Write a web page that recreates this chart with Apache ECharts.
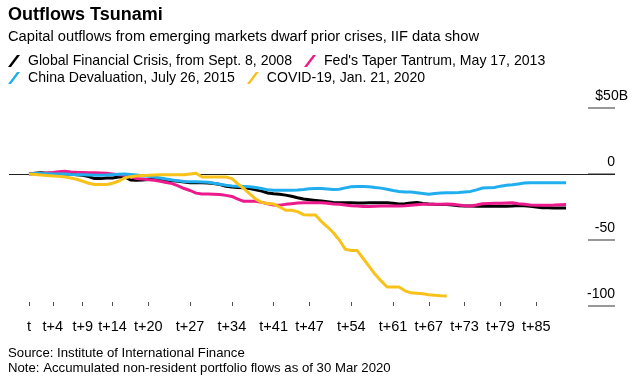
<!DOCTYPE html>
<html>
<head>
<meta charset="utf-8">
<script src="https://cdn.jsdelivr.net/npm/echarts@6/dist/echarts.min.js"></script>
<style>html,body{margin:0;padding:0;background:#fff}#c{width:638px;height:380px}</style>
</head>
<body>
<div id="c"></div>
<script>
var FONT = '"Liberation Sans", Arial, Helvetica, sans-serif';
var seriesNames = ['Global Financial Crisis, from Sept. 8, 2008', "Fed's Taper Tantrum, May 17, 2013", 'China Devaluation, July 26, 2015', 'COVID-19, Jan. 21, 2020'];
var tickSteps = [0, 4, 9, 14, 20, 27, 34, 41, 47, 54, 61, 67, 73, 79, 85];
var tickLabels = ['t', 't+4', 't+9', 't+14', 't+20', 't+27', 't+34', 't+41', 't+47', 't+54', 't+61', 't+67', 't+73', 't+79', 't+85'];
var yTicks = [-100, -50, 0, 50];
var yTickLabels = ['-100', '-50', '0', '$50B'];

var gfc = [0,0.5,1,0.5,0.5,0.5,0,0,-0.5,-1,-2,-3.5,-3.5,-3,-3,-2.3,-2,-4.5,-4.8,-4.5,-4.2,-4,-4.3,-4.8,-5.2,-5.5,-6,-6.6,-6.6,-6.6,-6.8,-7.2,-8,-9.3,-9.8,-10.2,-10.5,-11,-12,-13,-14.4,-15,-15.4,-16,-16.9,-18,-19,-19.5,-20,-20.5,-21,-21.5,-21.7,-21.7,-21.8,-22,-22,-21.8,-21.7,-21.7,-21.7,-22.2,-22.7,-22.5,-22,-21.5,-22.3,-22.7,-23,-23.2,-23.2,-23.5,-24,-24.2,-24.3,-24.5,-24.5,-24.5,-24.5,-24.5,-24.5,-24.3,-23.8,-24,-24.5,-25,-25.5,-25.6,-25.8,-25.8,-25.8];
var taper = [0,0.3,0.5,0.8,1.2,1.8,2,1.6,1.3,1.2,1,1,0.8,0.5,0,-0.5,-1,-2,-3.5,-3.8,-4.3,-4.8,-5.5,-6.5,-7.3,-9,-11,-12.5,-14.5,-15.2,-15.2,-15.3,-15.5,-16.2,-17,-19,-20.7,-20.7,-20.7,-21.5,-22.5,-23.5,-23.7,-23,-22.5,-22,-21.8,-21.7,-21.7,-21.8,-22.2,-22.7,-23,-23.5,-24,-24.3,-24.7,-24.7,-24.5,-24.3,-24.2,-24.2,-24.2,-24,-23.6,-23.3,-23,-23,-23,-23,-22.7,-23,-23.5,-24,-24.2,-23.5,-22.5,-22.3,-22.2,-22.2,-22,-21.8,-22.5,-23,-23.5,-23.7,-23.7,-23.6,-23.5,-23.3,-23.2];
var china = [0,0.3,0.3,0.2,0,0,0,-0.3,-0.5,-0.5,-0.7,-1,-1,-0.8,-0.5,-0.2,0,-0.3,-0.8,-1.3,-1.8,-2.3,-3,-3.8,-4.5,-5.2,-5.6,-5.8,-5.8,-6,-6.3,-7,-7.8,-8.6,-9,-9.2,-9.4,-9.6,-10.2,-11,-12,-12.4,-12.4,-12.4,-12.4,-12.2,-11.8,-11.2,-11,-11,-11.3,-11.8,-11.5,-10.5,-9.6,-9.4,-9.4,-9.6,-10.2,-10.7,-11.5,-12.5,-13.3,-13.6,-13.6,-14.2,-14.8,-15.4,-14.8,-14.4,-14.2,-14.2,-14,-13.6,-13.2,-12,-10.6,-10.4,-10.2,-9.2,-8.6,-8.2,-7.5,-6.8,-6.6,-6.6,-6.6,-6.6,-6.6,-6.6,-6.6];
var covid = [0,-0.3,-0.8,-1.2,-1.5,-1.8,-2.3,-3,-4,-5.5,-7,-8,-8,-8,-7,-5.5,-3,-2,-1.5,-1.2,-1,-0.7,-0.5,-0.5,-0.5,-0.5,-0.5,0,0.5,-2.3,-2.3,-2.3,-2.3,-2.3,-3.5,-7.5,-11,-15,-19,-21.5,-22.3,-22.8,-25,-27.5,-27.5,-28.5,-30.8,-31,-31,-36,-40,-44.5,-50,-57,-58,-58,-64,-70,-76,-81,-85.6,-85.6,-85.6,-88.5,-90,-90.4,-90.8,-91.5,-91.9,-92.2,-92.4];

var colors = ['#000000', '#ec1b8c', '#21aeef', '#f9c21b'];
var seriesData = [gfc, taper, china, covid];
var SLASH = 'path://M0,12 L9,0 L12,0 L3,12 Z';

function pairs(arr) { return arr.map(function (v, i) { return [i, v]; }); }

var chart = echarts.init(document.getElementById('c'), null, { renderer: 'canvas' });
var series = seriesData.map(function (arr, k) {
  var s = {
    name: seriesNames[k], type: 'line', data: pairs(arr), showSymbol: false, symbol: 'none',
    lineStyle: { color: colors[k], width: 3 }, itemStyle: { color: colors[k] },
    z: 3 + k, animation: false
  };
  if (k === 0) {
    s.markLine = { silent: true, symbol: 'none', label: { show: false }, animation: false,
      lineStyle: { color: '#222', width: 1, type: 'solid' }, data: [{ yAxis: 0 }] };
  }
  return s;
});

var legendText = { fontFamily: FONT, fontSize: 14.1, color: '#000', padding: [0, 0, 0, 3] };

chart.setOption({
  animation: false,
  textStyle: { fontFamily: FONT },
  title: [
    { text: 'Outflows Tsunami', subtext: 'Capital outflows from emerging markets dwarf prior crises, IIF data show',
      left: 8, top: 6, padding: 0, itemGap: 5,
      textStyle: { fontFamily: FONT, fontSize: 18, fontWeight: 'bold', color: '#000' },
      subtextStyle: { fontFamily: FONT, fontSize: 14.7, color: '#000' } },
    { text: 'Source: Institute of International Finance\nNote: Accumulated non-resident portfolio flows as of 30 Mar 2020',
      left: 8, top: 346, padding: 0,
      textStyle: { fontFamily: FONT, fontSize: 13.2, fontWeight: 'normal', color: '#000', lineHeight: 15 } }
  ],
  legend: [
    { data: [seriesNames[0], seriesNames[1]], left: 8, top: 54, padding: 0, itemGap: 12, itemWidth: 12, itemHeight: 12,
      icon: SLASH, textStyle: legendText },
    { data: [seriesNames[2], seriesNames[3]], left: 8, top: 71, padding: 0, itemGap: 12, itemWidth: 12, itemHeight: 12,
      icon: SLASH, textStyle: legendText }
  ],
  grid: { left: 9, right: 23, top: 108, bottom: 74 },
  xAxis: {
    type: 'value', min: -3.35, max: 98.2,
    axisLine: { show: false, onZero: false }, splitLine: { show: false },
    axisTick: { show: true, inside: true, length: 4, customValues: tickSteps, lineStyle: { color: '#555', width: 1 } },
    axisLabel: { customValues: tickSteps, margin: 13, fontSize: 14.5, color: '#000', fontFamily: FONT,
      formatter: function (v) { var i = tickSteps.indexOf(v); return i >= 0 ? tickLabels[i] : ''; } }
  },
  yAxis: {
    type: 'value', position: 'right', min: -100, max: 50, interval: 50,
    axisLine: { show: false, onZero: false }, splitLine: { show: false },
    axisTick: { show: true, inside: true, length: 27, lineStyle: { color: '#777', width: 1.5 } },
    axisLabel: { inside: true, margin: -13, fontSize: 14, color: '#000', fontFamily: FONT, verticalAlign: 'bottom', padding: [0, 0, 5, 0],
      formatter: function (v) { var i = yTicks.indexOf(v); if (i < 0) return ''; return v === 50 ? yTickLabels[i] : yTickLabels[i] + '{sp|}'; },
      rich: { sp: { width: 13 } } }
  },
  series: series
});
</script>
</body>
</html>
